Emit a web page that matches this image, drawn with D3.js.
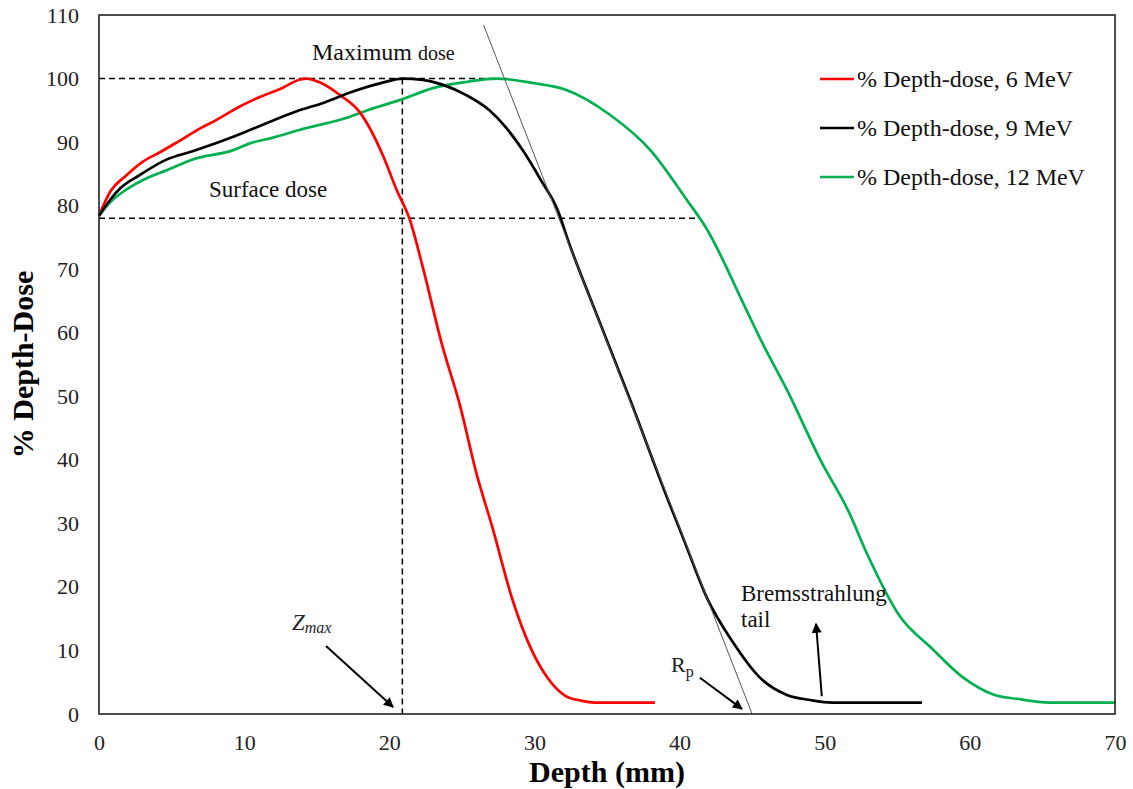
<!DOCTYPE html>
<html>
<head>
<meta charset="utf-8">
<script src="https://cdn.jsdelivr.net/npm/d3@7"></script>
<style>
  html, body { margin: 0; padding: 0; background: #fff; }
  svg { display: block; font-family: "Liberation Serif", "Times New Roman", serif; }
</style>
</head>
<body>
<svg id="chart" width="1133" height="789"></svg>
<script>
// Percent depth-dose curves for electron beams (depth in mm, dose in %)
const depth6 = [0, 0.8, 1.8, 3.0, 4.2, 5.4, 7.0, 8.1, 9.7, 10.6, 12.7, 13.8, 14.3, 15.2, 16.6, 18.0, 19.6, 20.5, 21.4, 22.3, 23.6, 24.9, 26.0, 27.1, 28.5, 29.7, 30.9, 32.1, 33.2, 34.2, 38.3];
const dose6  = [78.4, 82.3, 84.6, 86.9, 88.4, 90.0, 92.2, 93.5, 95.6, 96.6, 98.6, 99.8, 100, 99.4, 97.4, 94.6, 87.7, 82.5, 77.9, 70.4, 58.4, 48.3, 37.9, 29.4, 17.9, 10.6, 5.7, 2.9, 2.1, 1.8, 1.8];

const depth9 = [0, 0.8, 1.5, 2.8, 4.6, 6.5, 9.2, 10.4, 12.0, 13.8, 15.5, 17.3, 19.6, 20.9, 22.3, 23.7, 25.3, 26.9, 28.0, 29.2, 30.4, 31.6, 32.4, 33.9, 36.6, 39.2, 40.3, 41.9, 43.7, 45.5, 47.4, 49.0, 50.5, 56.7];
const dose9  = [78.4, 81.0, 82.8, 84.8, 87.2, 88.6, 90.8, 91.9, 93.4, 95.0, 96.2, 97.8, 99.4, 100, 99.8, 99.0, 97.4, 95.0, 92.4, 88.7, 84.2, 79.3, 74.0, 65.1, 49.4, 33.7, 27.4, 18.2, 11.2, 5.8, 3.0, 2.2, 1.8, 1.8];

const depth12 = [0, 0.8, 1.8, 3.0, 4.7, 6.5, 9.2, 10.4, 12.0, 13.8, 17.3, 18.5, 20.7, 23.0, 25.4, 27.4, 29.9, 32.2, 35.2, 38.0, 40.5, 41.8, 44.6, 45.7, 47.4, 49.7, 51.7, 52.9, 55.2, 57.3, 59.5, 61.7, 63.2, 65.5, 70];
const dose12  = [78.4, 80.6, 82.4, 84.0, 85.6, 87.3, 88.7, 89.8, 90.7, 91.9, 94.0, 95.0, 96.6, 98.5, 99.5, 100, 99.3, 98.2, 94.3, 88.7, 80.9, 76.6, 63.6, 58.4, 51.0, 40.0, 31.6, 25.3, 15.3, 10.5, 5.8, 3.0, 2.4, 1.8, 1.8];

const seriesNames  = ["% Depth-dose, 6 MeV", "% Depth-dose, 9 MeV", "% Depth-dose, 12 MeV"];
const seriesColors = ["#ff0000", "#000000", "#00b050"];

const xTicks = [0, 10, 20, 30, 40, 50, 60, 70];
const yTicks = [0, 10, 20, 30, 40, 50, 60, 70, 80, 90, 100, 110];

// Reference levels and practical-range tangent
const surfaceDose = 78;
const maxDose = 100;
const zMax = 20.9;
const surfaceLineEnd = 41.2;
const maxLineEnd = 27.4;
const tangentTop = [26.5, 108.4];
const tangentBottom = [45.0, 0];

const svg = d3.select("#chart");
const margin = { left: 99, top: 15, right: 1115, bottom: 714 };
const serif = "Liberation Serif, Times New Roman, serif";

const x = d3.scaleLinear().domain([0, 70]).range([margin.left, margin.right]);
const y = d3.scaleLinear().domain([0, 110]).range([margin.bottom, margin.top]);

// Axes (labels only, no tick marks)
const xAxis = d3.axisBottom(x).tickValues(xTicks).tickSize(0).tickPadding(20);
const yAxis = d3.axisLeft(y).tickValues(yTicks).tickSize(0).tickPadding(20);

const gx = svg.append("g").attr("transform", `translate(0,${margin.bottom})`).call(xAxis);
const gy = svg.append("g").attr("transform", `translate(${margin.left},0)`).call(yAxis);
[gx, gy].forEach(g => {
  g.attr("font-family", null).attr("font-size", null);
  g.select(".domain").remove();
  g.selectAll("text")
    .style("font-family", serif)
    .style("font-size", "22px")
    .attr("fill", "#222");
});

// Axis titles
svg.append("text")
  .attr("x", 607).attr("y", 782)
  .attr("text-anchor", "middle")
  .style("font-size", "30px").attr("font-weight", "bold")
  .text("Depth (mm)");
svg.append("text")
  .attr("transform", `translate(33,${(margin.top + margin.bottom) / 2}) rotate(-90)`)
  .attr("text-anchor", "middle")
  .style("font-size", "30px").attr("font-weight", "bold")
  .text("% Depth-Dose");

// Dashed reference lines
const dash = "6,4";
svg.append("line")
  .attr("x1", x(0)).attr("x2", x(maxLineEnd))
  .attr("y1", y(maxDose)).attr("y2", y(maxDose))
  .attr("stroke", "#000").attr("stroke-width", 1.5).attr("stroke-dasharray", dash);
svg.append("line")
  .attr("x1", x(0)).attr("x2", x(surfaceLineEnd))
  .attr("y1", y(surfaceDose)).attr("y2", y(surfaceDose))
  .attr("stroke", "#000").attr("stroke-width", 1.5).attr("stroke-dasharray", dash);
svg.append("line")
  .attr("x1", x(zMax)).attr("x2", x(zMax))
  .attr("y1", y(maxDose)).attr("y2", y(0) + 4)
  .attr("stroke", "#000").attr("stroke-width", 1.5).attr("stroke-dasharray", dash);

// Curves
const line = d3.line()
  .x(d => x(d[0]))
  .y(d => y(d[1]))
  .curve(d3.curveMonotoneX);

const series = [
  d3.zip(depth6, dose6),
  d3.zip(depth9, dose9),
  d3.zip(depth12, dose12)
];

[2, 0, 1].forEach(i => {
  svg.append("path")
    .datum(series[i])
    .attr("fill", "none")
    .attr("stroke", seriesColors[i])
    .attr("stroke-width", 2.7)
    .attr("stroke-linejoin", "round")
    .attr("d", line);
});

// Tangent to the falling edge of the 9 MeV curve
svg.append("line")
  .attr("x1", x(tangentTop[0])).attr("y1", y(tangentTop[1]))
  .attr("x2", x(tangentBottom[0])).attr("y2", y(tangentBottom[1]))
  .attr("stroke", "#555").attr("stroke-width", 1);

// Plot frame
svg.append("rect")
  .attr("x", margin.left).attr("y", margin.top)
  .attr("width", margin.right - margin.left)
  .attr("height", margin.bottom - margin.top)
  .attr("fill", "none").attr("stroke", "#222").attr("stroke-width", 1.6);

// Arrow marker
svg.append("defs").append("marker")
  .attr("id", "arrow")
  .attr("viewBox", "0 0 10 10")
  .attr("refX", 9).attr("refY", 5)
  .attr("markerWidth", 5.5).attr("markerHeight", 5)
  .attr("markerUnits", "strokeWidth")
  .attr("orient", "auto")
  .append("path")
  .attr("d", "M0,0 L10,5 L0,10 z")
  .attr("fill", "#000");

function arrow(x1, y1, x2, y2) {
  svg.append("line")
    .attr("x1", x1).attr("y1", y1).attr("x2", x2).attr("y2", y2)
    .attr("stroke", "#000").attr("stroke-width", 2)
    .attr("marker-end", "url(#arrow)");
}

// Annotations
const maxText = svg.append("text").attr("x", 312).attr("y", 60).attr("fill", "#111");
maxText.append("tspan").style("font-size", "24px").text("Maximum ");
maxText.append("tspan").style("font-size", "20px").text("dose");

svg.append("text").attr("x", 209).attr("y", 197)
  .style("font-size", "23px").attr("fill", "#111")
  .text("Surface dose");

const zText = svg.append("text").attr("x", 292).attr("y", 630).attr("fill", "#222").attr("font-style", "italic");
zText.append("tspan").style("font-size", "23px").text("Z");
zText.append("tspan").style("font-size", "16px").attr("dy", 3).text("max");
arrow(x(15.64), y(10.7), x(20.26), y(1.1));

const rText = svg.append("text").attr("x", 671).attr("y", 672).attr("fill", "#222");
rText.append("tspan").style("font-size", "22px").text("R");
rText.append("tspan").style("font-size", "16px").attr("dy", 5).text("p");
arrow(x(41.4), y(5.7), x(44.3), y(0.8));

svg.append("text").attr("x", 741).attr("y", 601)
  .style("font-size", "23px").attr("fill", "#111").text("Bremsstrahlung");
svg.append("text").attr("x", 741).attr("y", 627)
  .style("font-size", "23px").attr("fill", "#111").text("tail");
arrow(x(49.8), y(2.8), x(49.4), y(14.2));

// Legend
const legend = svg.append("g");
seriesNames.forEach((name, i) => {
  const ly = 79 + i * 49;
  legend.append("line")
    .attr("x1", 820).attr("x2", 854).attr("y1", ly).attr("y2", ly)
    .attr("stroke", seriesColors[i]).attr("stroke-width", 2.7);
  legend.append("text")
    .attr("x", 857).attr("y", ly + 8)
    .style("font-size", "24px").attr("fill", "#111")
    .text(name);
});
</script>
</body>
</html>
